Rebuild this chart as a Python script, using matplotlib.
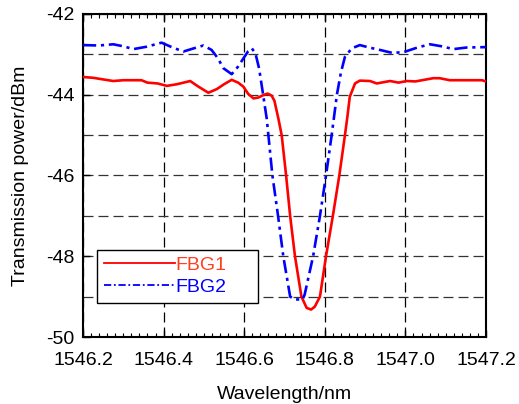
import matplotlib
matplotlib.use("Agg")
import matplotlib.pyplot as plt
from matplotlib.ticker import MultipleLocator, FormatStrFormatter
from matplotlib.lines import Line2D

plt.rcParams['font.family'] = ['Liberation Sans', 'DejaVu Sans']
plt.rcParams['axes.unicode_minus'] = False

fbg1_wl = [1546.200, 1546.225, 1546.250, 1546.275, 1546.300, 1546.345, 1546.360, 1546.385,
           1546.408, 1546.433, 1546.466, 1546.485, 1546.511, 1546.532, 1546.550, 1546.569,
           1546.585, 1546.598, 1546.610, 1546.623, 1546.635, 1546.645, 1546.658, 1546.668,
           1546.675, 1546.685, 1546.693, 1546.704, 1546.714, 1546.726, 1546.742, 1546.755,
           1546.766, 1546.775, 1546.788, 1546.803, 1546.820, 1546.836, 1546.850, 1546.856,
           1546.862, 1546.875, 1546.887, 1546.912, 1546.929, 1546.962, 1546.983, 1547.003,
           1547.025, 1547.069, 1547.085, 1547.110, 1547.190, 1547.200]
fbg1_db = [-43.56, -43.58, -43.62, -43.66, -43.64, -43.64, -43.70, -43.72,
           -43.78, -43.74, -43.66, -43.79, -43.95, -43.86, -43.74, -43.63,
           -43.70, -43.80, -43.98, -44.09, -44.07, -44.02, -43.97, -44.02,
           -44.15, -44.60, -45.00, -46.00, -47.00, -48.00, -49.00, -49.28,
           -49.32, -49.25, -49.00, -48.00, -47.00, -46.00, -45.00, -44.55,
           -44.05, -43.72, -43.65, -43.66, -43.72, -43.66, -43.70, -43.66,
           -43.67, -43.59, -43.59, -43.64, -43.64, -43.67]

fbg2_wl = [1546.200, 1546.240, 1546.275, 1546.300, 1546.325, 1546.358, 1546.395, 1546.420,
           1546.449, 1546.475, 1546.499, 1546.519, 1546.535, 1546.548, 1546.569, 1546.585,
           1546.598, 1546.610, 1546.619, 1546.628, 1546.637, 1546.647, 1546.656, 1546.660,
           1546.670, 1546.684, 1546.697, 1546.714, 1546.725, 1546.745, 1546.750, 1546.771,
           1546.788, 1546.803, 1546.817, 1546.822, 1546.830, 1546.840, 1546.850, 1546.867,
           1546.887, 1546.910, 1546.937, 1546.970, 1547.000, 1547.030, 1547.061, 1547.090,
           1547.119, 1547.152, 1547.200]
fbg2_db = [-42.77, -42.78, -42.75, -42.80, -42.87, -42.81, -42.71, -42.82,
           -42.93, -42.85, -42.78, -42.89, -43.10, -43.34, -43.49, -43.30,
           -43.10, -42.92, -42.85, -42.98, -43.35, -44.00, -44.60, -45.00,
           -46.00, -47.00, -48.00, -49.00, -49.07, -49.07, -48.95, -48.00,
           -47.00, -46.00, -45.00, -44.62, -44.00, -43.45, -43.06, -42.85,
           -42.77, -42.83, -42.89, -42.97, -42.93, -42.83, -42.75, -42.80,
           -42.87, -42.83, -42.82]

series_labels = ["FBG1", "FBG2"]
x_ticks = [1546.2, 1546.4, 1546.6, 1546.8, 1547.0, 1547.2]
y_ticks = [-50, -48, -46, -44, -42]

fig = plt.figure(figsize=(5.19, 4.04), dpi=100)
ax = fig.add_axes([83/519, 1-337/404, (486-83)/519, (337-14)/404])

ax.plot(fbg1_wl, fbg1_db, color='#ff0000', lw=1.9, solid_joinstyle='round', zorder=3)
ax.plot(fbg2_wl, fbg2_db, color='#0000ff', lw=1.9, linestyle=(0, (5, 1.8, 1.2, 1.8)), zorder=3)

ax.set_xlim(1546.2, 1547.2)
ax.set_ylim(-50, -42)
ax.set_xticks(x_ticks)
ax.set_yticks(y_ticks)
ax.xaxis.set_major_formatter(FormatStrFormatter('%.1f'))
ax.xaxis.set_minor_locator(MultipleLocator(0.02))
ax.yaxis.set_minor_locator(MultipleLocator(1))

ax.grid(True, which='major', axis='x', color='black', linestyle=(0, (8, 4)), lw=0.9)
ax.grid(True, which='both', axis='y', color='#333333', linestyle=(0, (8, 4)), lw=0.9)

ax.tick_params(axis='x', which='major', direction='in', length=5, width=1,
               labelsize=14, top=True, pad=11)
ax.tick_params(axis='y', which='major', direction='in', length=5, width=1,
               labelsize=14, right=False, pad=6)
ax.tick_params(axis='x', which='minor', direction='in', length=3, width=0.8, top=True)
ax.tick_params(axis='y', which='minor', direction='in', length=0)
for sp in ax.spines.values():
    sp.set_linewidth(1.5)

ax.set_xlabel("Wavelength/nm", fontsize=14, labelpad=12)
ax.set_ylabel("Transmission power/dBm", fontsize=14, labelpad=12)

handles = [Line2D([], [], color='#ff0000', lw=1.3),
           Line2D([], [], color='#0000ff', lw=1.3, linestyle=(0, (4, 1.5, 1, 1.5)))]
leg = ax.legend(handles, series_labels, loc='upper left', bbox_to_anchor=(0.034, 0.27, 0.40, 0.0),
                mode='expand', fontsize=14, handlelength=3.7, handletextpad=0.0,
                fancybox=False, edgecolor='black', framealpha=1, borderpad=0.35,
                labelspacing=0.2, borderaxespad=0)
leg.get_frame().set_linewidth(1.0)
leg.get_texts()[0].set_color('#ff4020')
leg.get_texts()[1].set_color('#0000ff')

fig.savefig("out.png", dpi=100)
